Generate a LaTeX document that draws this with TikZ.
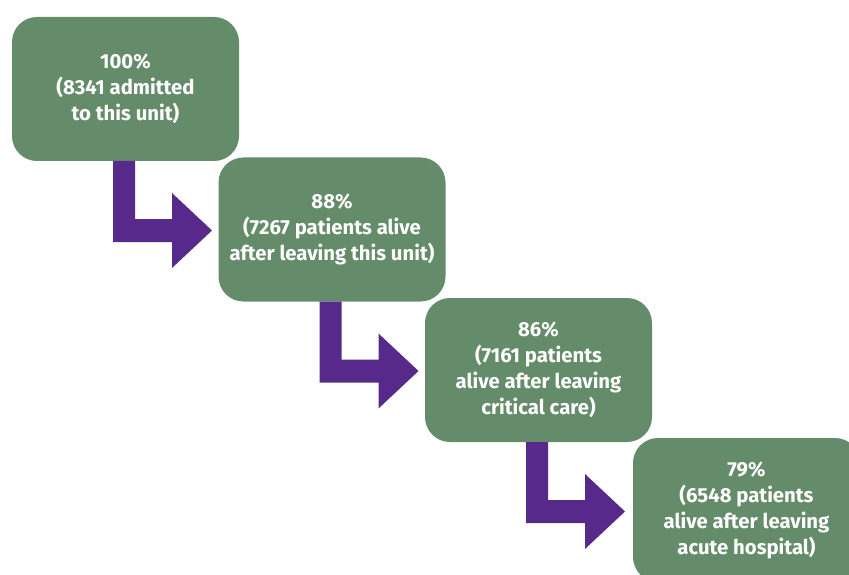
\documentclass[tikz,border=0pt]{standalone}
\usepackage{fontspec}
\setmainfont{Fira Sans}
\usetikzlibrary{calc}
\definecolor{boxgreen}{HTML}{658C6A}
\definecolor{arrowpurple}{HTML}{57298A}
\tikzset{
  stagebox/.style={fill=boxgreen, draw=none, rounded corners=25pt, minimum width=227pt, minimum height=144pt,
    inner sep=0pt, outer sep=0pt, text=white, align=center,
    font=\fontsize{20.3}{26}\selectfont\bfseries},
  bentarrow/.style={fill=arrowpurple, draw=none}
}
\begin{document}
\begin{tikzpicture}[x=1pt,y=-1pt]
\useasboundingbox (0,0) rectangle (849,575);
\clip (0,0) rectangle (849,575);
\node[stagebox] (b1) at (125.5,89) {100\%\\(8341 admitted\\to this unit)};
\node[stagebox] (b2) at (332,229.5) {88\%\\(7267 patients alive\\after leaving this unit)};
\node[stagebox] (b3) at (538.5,370) {86\%\\(7161 patients\\alive after leaving\\critical care)};
\node[stagebox] (b4) at (746.5,510) {79\%\\(6548 patients\\alive after leaving\\acute hospital)};
\foreach \n in {b1,b2,b3}{
  \fill[bentarrow] ($(\n.south west)+(101,0)$) -- ++(0,81) -- ++(59,0) -- ++(0,26) -- ++(40,-37.5)
     -- ++(-40,-37.5) -- ++(0,26) -- ++(-37,0) -- ++(0,-58) -- cycle;
}
\end{tikzpicture}
\end{document}
